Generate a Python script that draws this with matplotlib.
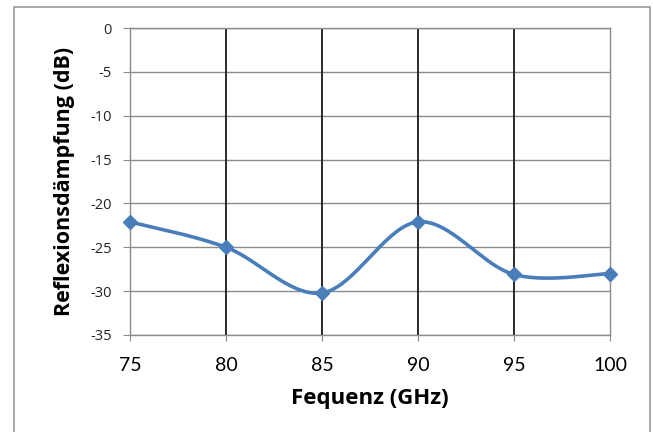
import matplotlib.pyplot as plt
import numpy as np

plt.rcParams['axes.unicode_minus'] = False

# data
freq = [75, 80, 85, 90, 95, 100]
damping = [-22.1, -25.0, -30.2, -22.1, -28.1, -28.0]
marked_freqs = [80, 85, 90, 95]   # hand drawn black lines
y_ticks = [0, -5, -10, -15, -20, -25, -30, -35]
x_ticks = [75, 80, 85, 90, 95, 100]

line_color = '#4A7EBB'


def excel_smooth(x, y, steps=40):
    """Catmull-Rom curve, like Excel's 'smoothed line' option."""
    pts = np.column_stack([x, y]).astype(float)
    padded = np.vstack([pts[0], pts, pts[-1]])
    out = []
    for i in range(len(pts) - 1):
        p0, p1, p2, p3 = padded[i], padded[i + 1], padded[i + 2], padded[i + 3]
        m1 = (p2 - p0) / 2
        m2 = (p3 - p1) / 2
        t = np.linspace(0, 1, steps)[:, None]
        h00 = 2 * t**3 - 3 * t**2 + 1
        h10 = t**3 - 2 * t**2 + t
        h01 = -2 * t**3 + 3 * t**2
        h11 = t**3 - t**2
        out.append(h00 * p1 + h10 * m1 + h01 * p2 + h11 * m2)
    seg = np.vstack(out)
    return seg[:, 0], seg[:, 1]


fig = plt.figure(figsize=(6.53, 4.32), dpi=100)
ax = fig.add_axes([130 / 653, 1 - 335 / 432, 480 / 653, 307 / 432])

# outer chart border
fig.patches.append(plt.Rectangle((14 / 653, -0.01), 636 / 653, 1 - 7 / 432 + 0.01,
                                 transform=fig.transFigure, fill=False,
                                 edgecolor='#9a9a9a', linewidth=1.2))

ax.set_xlim(75, 100)
ax.set_ylim(-35, 0)
ax.set_yticks(y_ticks)
ax.set_xticks(x_ticks)
ax.grid(axis='y', color='#8c8c8c', linewidth=1.0)
ax.set_axisbelow(True)

for f in marked_freqs:
    ax.axvline(f, color='#2b2b2b', linewidth=1.4, zorder=2)

sx, sy = excel_smooth(freq, damping)
ax.plot(sx, sy, color=line_color, linewidth=2.6, zorder=3, clip_on=False,
        solid_capstyle='round')
ax.plot(freq, damping, linestyle='none', marker='D', markersize=7,
        color=line_color, zorder=4, clip_on=False)

for side in ['left', 'bottom', 'top', 'right']:
    ax.spines[side].set_color('#8c8c8c')
    ax.spines[side].set_linewidth(1.0)

ax.tick_params(axis='y', direction='out', length=5, color='#8c8c8c',
               labelsize=10.5, pad=8)
ax.tick_params(axis='x', direction='out', length=4, color='#8c8c8c',
               labelsize=14, pad=12)
for lbl in ax.get_yticklabels():
    lbl.set_family('Open Sans')
    lbl.set_color('#222222')
for lbl in ax.get_xticklabels():
    lbl.set_family('Lato')

ax.set_xlabel('Fequenz (GHz)', fontsize=16, fontweight='bold',
              family='Open Sans', labelpad=10)
ax.set_ylabel('Reflexionsdämpfung (dB)', fontsize=15.5, fontweight='bold',
              family='Open Sans', labelpad=11)

fig.savefig('out.png', dpi=100)
